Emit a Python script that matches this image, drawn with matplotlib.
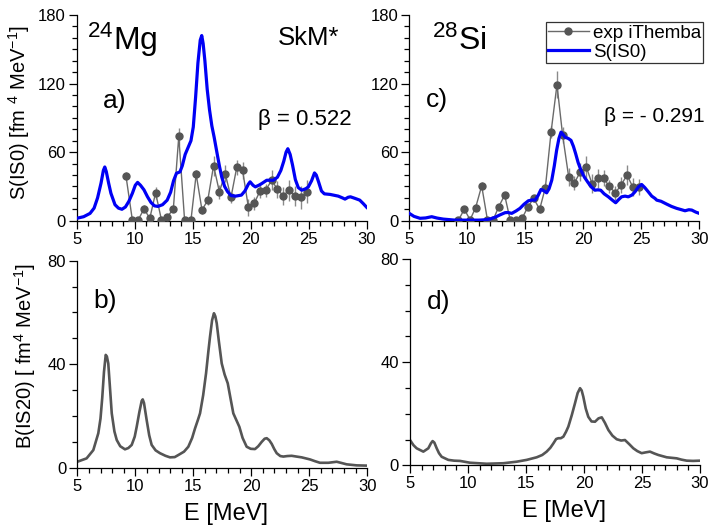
import numpy as np
import matplotlib
matplotlib.use("Agg")
import matplotlib.pyplot as plt
from matplotlib.ticker import MultipleLocator

plt.rcParams['font.family'] = ['Liberation Sans', 'DejaVu Sans']
plt.rcParams['mathtext.fontset'] = 'custom'
plt.rcParams['mathtext.rm'] = 'Liberation Sans'
plt.rcParams['mathtext.it'] = 'Liberation Sans:italic'

# --- 24Mg: iThemba data, S(IS0) and B(IS20) strength functions ---
mg_exp_e = [9.25, 9.8, 10.3, 10.8, 11.3, 11.8, 12.3, 12.8, 13.33, 13.8, 14.3, 14.85,
            15.3, 15.8, 16.3, 16.8, 17.3, 17.8, 18.3, 18.8, 19.3, 19.8, 20.3, 20.8,
            21.3, 21.8, 22.3, 22.8, 23.3, 23.8, 24.3, 24.85]
mg_exp_s = [39.0, 0.5, 0.5, 10.5, 2.0, 24.4, 1.0, 3.2, 10.2, 73.8, 0.5, 0.5,
            40.7, 9.3, 18.0, 48.2, 25.3, 41.3, 20.4, 46.8, 44.1, 11.7, 15.1, 25.9,
            26.7, 35.4, 27.6, 21.8, 26.7, 21.8, 20.4, 25.3]
mg_exp_err = [3.5, 1.5, 1.5, 3.0, 2.0, 5.5, 1.5, 2.0, 3.0, 7.5, 1.5, 1.5,
              4.0, 3.0, 4.0, 8.7, 6.0, 7.3, 5.0, 6.5, 7.3, 7.3, 5.5, 5.8,
              5.8, 8.7, 7.3, 8.0, 9.3, 9.0, 10.0, 10.0]

mg_is0_e = [5.0, 5.6, 6.15, 6.5, 6.8, 7.1, 7.3, 7.42, 7.55, 7.75, 7.95, 8.3, 8.6, 8.9,
            9.2, 9.5, 9.8, 10.05, 10.25, 10.5, 10.8, 11.1, 11.4, 11.7, 12.0, 12.4,
            12.8, 13.1, 13.35, 13.6, 13.9, 14.1, 14.35, 14.6, 14.85, 15.05, 15.25,
            15.45, 15.65, 15.78, 15.9, 16.05, 16.25, 16.45, 16.65, 16.85, 17.1, 17.3,
            17.5, 17.75, 18.0, 18.3, 18.7, 19.2, 19.5, 19.8, 19.95, 20.2, 20.4, 20.7,
            20.95, 21.38, 21.95, 22.3, 22.6, 22.85, 23.05, 23.2, 23.4, 23.6, 23.85,
            24.1, 24.4, 24.75, 24.97, 25.25, 25.5, 25.65, 25.85, 26.1, 26.35, 26.84,
            27.55, 27.9, 28.13, 28.4, 28.6, 29.0, 29.4, 29.7, 30.0]
mg_is0_s = [2.1, 3.5, 6.4, 11.0, 20.0, 33.0, 44.0, 47.0, 43.0, 33.0, 24.0, 14.0, 11.0, 10.0,
            12.0, 17.0, 24.0, 31.0, 33.5, 31.0, 27.0, 21.0, 16.0, 13.0, 12.5, 14.0,
            18.0, 25.0, 35.0, 41.5, 42.7, 48.0, 58.0, 64.0, 70.0, 82.0, 108.0,
            138.0, 158.0, 162.0, 155.0, 140.0, 115.0, 97.0, 83.0, 73.0, 59.0, 48.0,
            38.3, 30.0, 25.5, 22.0, 21.5, 22.4, 26.0, 32.0, 34.0, 31.0, 29.6, 31.0,
            32.5, 35.4, 35.4, 38.0, 44.0, 52.0, 60.0, 63.0, 58.0, 49.0, 36.0,
            29.0, 26.7, 28.0, 29.6, 35.0, 41.8, 40.0, 34.0, 26.0, 23.5, 23.0,
            21.5, 20.0, 18.9, 20.5, 20.9, 19.5, 18.0, 15.0, 11.7]

mg_is2_e = [5.0, 5.8, 6.38, 6.81, 7.0, 7.15, 7.3, 7.45, 7.55, 7.67, 7.8, 7.97, 8.2, 8.4,
            8.7, 9.11, 9.4, 9.69, 9.95, 10.12, 10.35, 10.55, 10.64, 10.75, 10.98, 11.2,
            11.41, 11.75, 12.13, 12.6, 12.99, 13.4, 13.71, 14.2, 14.57, 14.9, 15.15,
            15.4, 15.58, 15.85, 16.1, 16.3, 16.44, 16.62, 16.78, 16.9, 17.02, 17.2,
            17.45, 17.7, 17.97, 18.2, 18.45, 18.7, 18.97, 19.25, 19.6, 19.95, 20.32,
            20.6, 20.9, 21.15, 21.33, 21.55, 21.76, 21.98, 22.19, 22.5, 22.76, 23.1,
            23.48, 23.9, 24.34, 24.7, 25.06, 25.5, 25.92, 26.64, 27.0, 27.36, 27.8,
            28.22, 29.09, 30.0]
mg_is2_b = [2.3, 3.6, 6.8, 13.3, 19.0, 27.0, 37.0, 43.6, 43.0, 40.3, 32.0, 21.0, 14.0, 10.7,
            8.3, 7.1, 7.6, 8.8, 12.0, 15.8, 21.5, 25.8, 26.4, 25.0, 18.4, 12.5,
            8.8, 6.7, 5.6, 4.6, 4.0, 4.1, 4.9, 6.2, 8.1, 11.5, 15.2,
            18.5, 21.0, 28.0, 36.5, 45.0, 50.6, 57.0, 59.7, 58.5, 55.8, 49.0,
            40.3, 36.0, 32.6, 27.0, 21.0, 18.5, 15.8, 11.5, 8.1, 7.3, 7.2,
            8.3, 10.0, 11.2, 11.4, 10.6, 9.2, 7.2, 5.6, 4.5, 4.3, 4.5,
            4.6, 4.3, 4.0, 3.6, 3.2, 2.5, 1.9, 1.9, 2.1, 2.3, 1.8,
            1.3, 0.9, 0.8]

# --- 28Si ---
si_exp_e = [9.24, 9.74, 10.24, 10.72, 11.24, 11.74, 12.22, 12.7, 13.22, 13.7, 14.2, 14.72,
            15.22, 15.72, 16.24, 16.73, 17.22, 17.73, 18.22, 18.74, 19.23, 19.74, 20.26,
            20.75, 21.24, 21.76, 22.24, 22.76, 23.25, 23.77, 24.26, 24.77]
si_exp_s = [0.5, 10.0, 0.8, 11.5, 30.5, 0.5, 0.5, 12.0, 22.4, 0.6, 0.6, 2.0,
            12.0, 19.5, 10.0, 29.0, 77.5, 119.0, 74.6, 38.3, 33.0, 42.7, 47.0,
            32.5, 37.0, 37.0, 30.0, 24.4, 31.0, 40.0, 29.6, 29.6]
si_exp_err = [1.0, 3.0, 1.0, 3.0, 3.0, 1.0, 1.0, 3.0, 3.0, 1.0, 1.0, 2.0,
              3.0, 3.0, 3.0, 4.0, 5.0, 12.0, 7.0, 8.0, 6.0, 8.0, 10.0,
              8.0, 8.0, 7.0, 6.0, 6.0, 7.0, 9.0, 8.0, 7.0]

si_is0_e = [5.0, 5.4, 5.92, 6.4, 6.93, 7.4, 7.93, 8.94, 9.9, 11.0, 11.53, 12.0, 12.39,
            12.8, 13.25, 13.5, 13.83, 14.2, 14.54, 14.9, 15.26, 15.6, 15.84, 16.1,
            16.35, 16.55, 16.84, 17.05, 17.28, 17.5, 17.7, 17.9, 18.08, 18.25, 18.42,
            18.7, 18.94, 19.15, 19.34, 19.55, 19.8, 20.1, 20.43, 20.7, 21.0, 21.25,
            21.5, 21.8, 22.16, 22.5, 22.79, 23.05, 23.3, 23.6, 23.88, 24.2, 24.46,
            24.75, 25.03, 25.3, 25.6, 25.9, 26.18, 26.33, 26.7, 27.19, 27.6, 28.05,
            28.4, 28.77, 29.1, 29.35, 29.7, 30.0]
si_is0_s = [6.4, 3.8, 2.1, 2.4, 3.5, 2.3, 1.4, 0.5, 0.5, 0.5, 0.8, 1.6, 3.0,
            5.0, 7.0, 7.2, 6.4, 8.5, 10.8, 14.5, 17.4, 18.2, 18.0, 22.0,
            27.3, 26.5, 24.4, 28.0, 35.4, 48.0, 61.6, 72.0, 77.5, 75.5, 73.1,
            72.0, 70.3, 65.0, 58.7, 51.0, 44.1, 38.0, 33.1, 29.5, 26.7, 27.0,
            26.7, 23.5, 20.9, 18.0, 15.7, 18.5, 20.9, 21.5, 20.9, 22.5, 25.3,
            29.5, 31.7, 29.0, 25.3, 21.5, 19.5, 18.0, 17.0, 14.5, 12.5, 10.8,
            9.8, 8.7, 9.6, 9.3, 7.5, 6.4]

si_is2_e = [5.0, 5.3, 5.57, 6.15, 6.58, 6.8, 6.95, 7.1, 7.3, 7.5, 7.73, 8.3, 8.8, 9.31,
            10.17, 11.61, 13.05, 14.2, 15.06, 15.92, 16.4, 16.78, 17.1, 17.36, 17.6,
            17.79, 18.0, 18.22, 18.45, 18.65, 18.95, 19.22, 19.45, 19.66, 19.8, 19.94,
            20.15, 20.37, 20.65, 20.95, 21.25, 21.53, 21.8, 22.1, 22.45, 22.82, 23.2,
            23.53, 23.9, 24.25, 24.6, 24.97, 25.3, 25.69, 26.05, 26.41, 27.13, 27.99,
            28.4, 28.85, 29.4, 30.0]
si_is2_b = [9.8, 7.8, 6.6, 5.3, 6.6, 8.5, 9.4, 8.8, 6.6, 4.7, 3.3, 2.1, 1.8, 1.7,
            1.0, 0.6, 0.8, 1.4, 2.1, 3.1, 4.0, 5.3, 6.8, 8.5, 10.2,
            10.5, 10.5, 11.1, 13.0, 15.0, 19.5, 24.0, 28.0, 29.9, 29.0, 26.6,
            22.0, 18.8, 17.0, 16.9, 18.2, 18.6, 16.5, 13.7, 11.5, 10.1, 9.6,
            9.8, 8.2, 6.6, 5.5, 4.7, 5.0, 5.3, 4.6, 4.0, 3.1, 2.7,
            2.2, 1.8, 1.7, 1.8]

BLUE = '#0000f5'
DARK = '#555555'

fig = plt.figure(figsize=(7.14, 5.25), dpi=100)
W, H = 714.0, 525.0


def box(x0, y0, x1, y1):
    # pixel box (top-left origin) -> figure fraction rect
    return [x0 / W, 1 - y1 / H, (x1 - x0) / W, (y1 - y0) / H]


ax_a = fig.add_axes(box(76.7, 15.0, 366.7, 220.7))
ax_c = fig.add_axes(box(409.3, 15.0, 699.3, 220.7))
ax_b = fig.add_axes(box(77.3, 260.7, 367.3, 467.7))
ax_d = fig.add_axes(box(410.0, 259.0, 700.0, 465.3))


def style(ax, ymax, ymajor):
    for s in ('top', 'right'):
        ax.spines[s].set_visible(False)
    for s in ('left', 'bottom'):
        ax.spines[s].set_linewidth(0.9)
    ax.set_xlim(5, 30)
    ax.set_ylim(0, ymax)
    ax.xaxis.set_major_locator(MultipleLocator(5))
    ax.xaxis.set_minor_locator(MultipleLocator(1))
    ax.yaxis.set_major_locator(MultipleLocator(ymajor))
    ax.yaxis.set_minor_locator(MultipleLocator(10))
    ax.tick_params(which='major', direction='out', length=6, width=0.9, labelsize=12, pad=2)
    ax.tick_params(which='minor', direction='out', length=3.5, width=0.9)
    ax.patch.set_visible(False)


for ax in (ax_a, ax_c):
    style(ax, 180, 60)
for ax in (ax_b, ax_d):
    style(ax, 80, 40)


def exp_points(ax, e, s, err):
    ax.errorbar(e, s, yerr=err, fmt='none', ecolor='#8a8a8a', elinewidth=1.0, zorder=2)
    ax.plot(e, s, '-o', color='#6a6a6a', lw=1.0, ms=5, mfc='#555555', mec='#555555',
            zorder=3, label='exp iThemba')


exp_points(ax_a, mg_exp_e, mg_exp_s, mg_exp_err)
ax_a.plot(mg_is0_e, mg_is0_s, color=BLUE, lw=2.3, zorder=4, label='S(IS0)',
          solid_joinstyle='round')

exp_points(ax_c, si_exp_e, si_exp_s, si_exp_err)
ax_c.plot(si_is0_e, si_is0_s, color=BLUE, lw=2.3, zorder=4, label='S(IS0)',
          solid_joinstyle='round')

ax_b.plot(mg_is2_e, mg_is2_b, color=DARK, lw=1.9, solid_joinstyle='round')
ax_d.plot(si_is2_e, si_is2_b, color=DARK, lw=1.9, solid_joinstyle='round')

leg = ax_c.legend(loc='upper right', bbox_to_anchor=(703.3 / W, 1 - 22.3 / H),
                  bbox_transform=fig.transFigure, fontsize=13.5, frameon=True,
                  fancybox=False, borderpad=0.12, handlelength=2.2, handletextpad=0.2,
                  labelspacing=0.12, borderaxespad=0)
leg.get_frame().set_edgecolor('black')
leg.get_frame().set_linewidth(0.9)

# panel annotations
ax_a.text(0.035, 0.83, r'$^{24}$Mg', transform=ax_a.transAxes, fontsize=23)
ax_a.text(0.695, 0.855, 'SkM*', transform=ax_a.transAxes, fontsize=18.5)
ax_a.text(0.625, 0.465, 'β = 0.522', transform=ax_a.transAxes, fontsize=16)
ax_a.text(0.09, 0.55, 'a)', transform=ax_a.transAxes, fontsize=19)

ax_c.text(0.08, 0.83, r'$^{28}$Si', transform=ax_c.transAxes, fontsize=23)
ax_c.text(0.057, 0.555, 'c)', transform=ax_c.transAxes, fontsize=19)
ax_c.text(0.672, 0.48, 'β = - 0.291', transform=ax_c.transAxes, fontsize=15)

ax_b.text(0.055, 0.77, 'b)', transform=ax_b.transAxes, fontsize=19)
ax_d.text(0.057, 0.76, 'd)', transform=ax_d.transAxes, fontsize=19)

ax_a.set_ylabel(r'S(IS0) [fm $^{4}$ MeV$^{-1}$]', fontsize=14.5)
ax_a.yaxis.set_label_coords(-0.155, 0.526)
ax_b.set_ylabel(r'B(IS20) [ fm$^{4}$ MeV$^{-1}$]', fontsize=14.5)
ax_b.yaxis.set_label_coords(-0.135, 0.54)

for ax, xc in ((ax_b, 0.513), (ax_d, 0.531)):
    ax.set_xlabel('E [MeV]', fontsize=17)
    ax.xaxis.set_label_coords(xc, -0.17)

fig.savefig('out.png', dpi=100)
